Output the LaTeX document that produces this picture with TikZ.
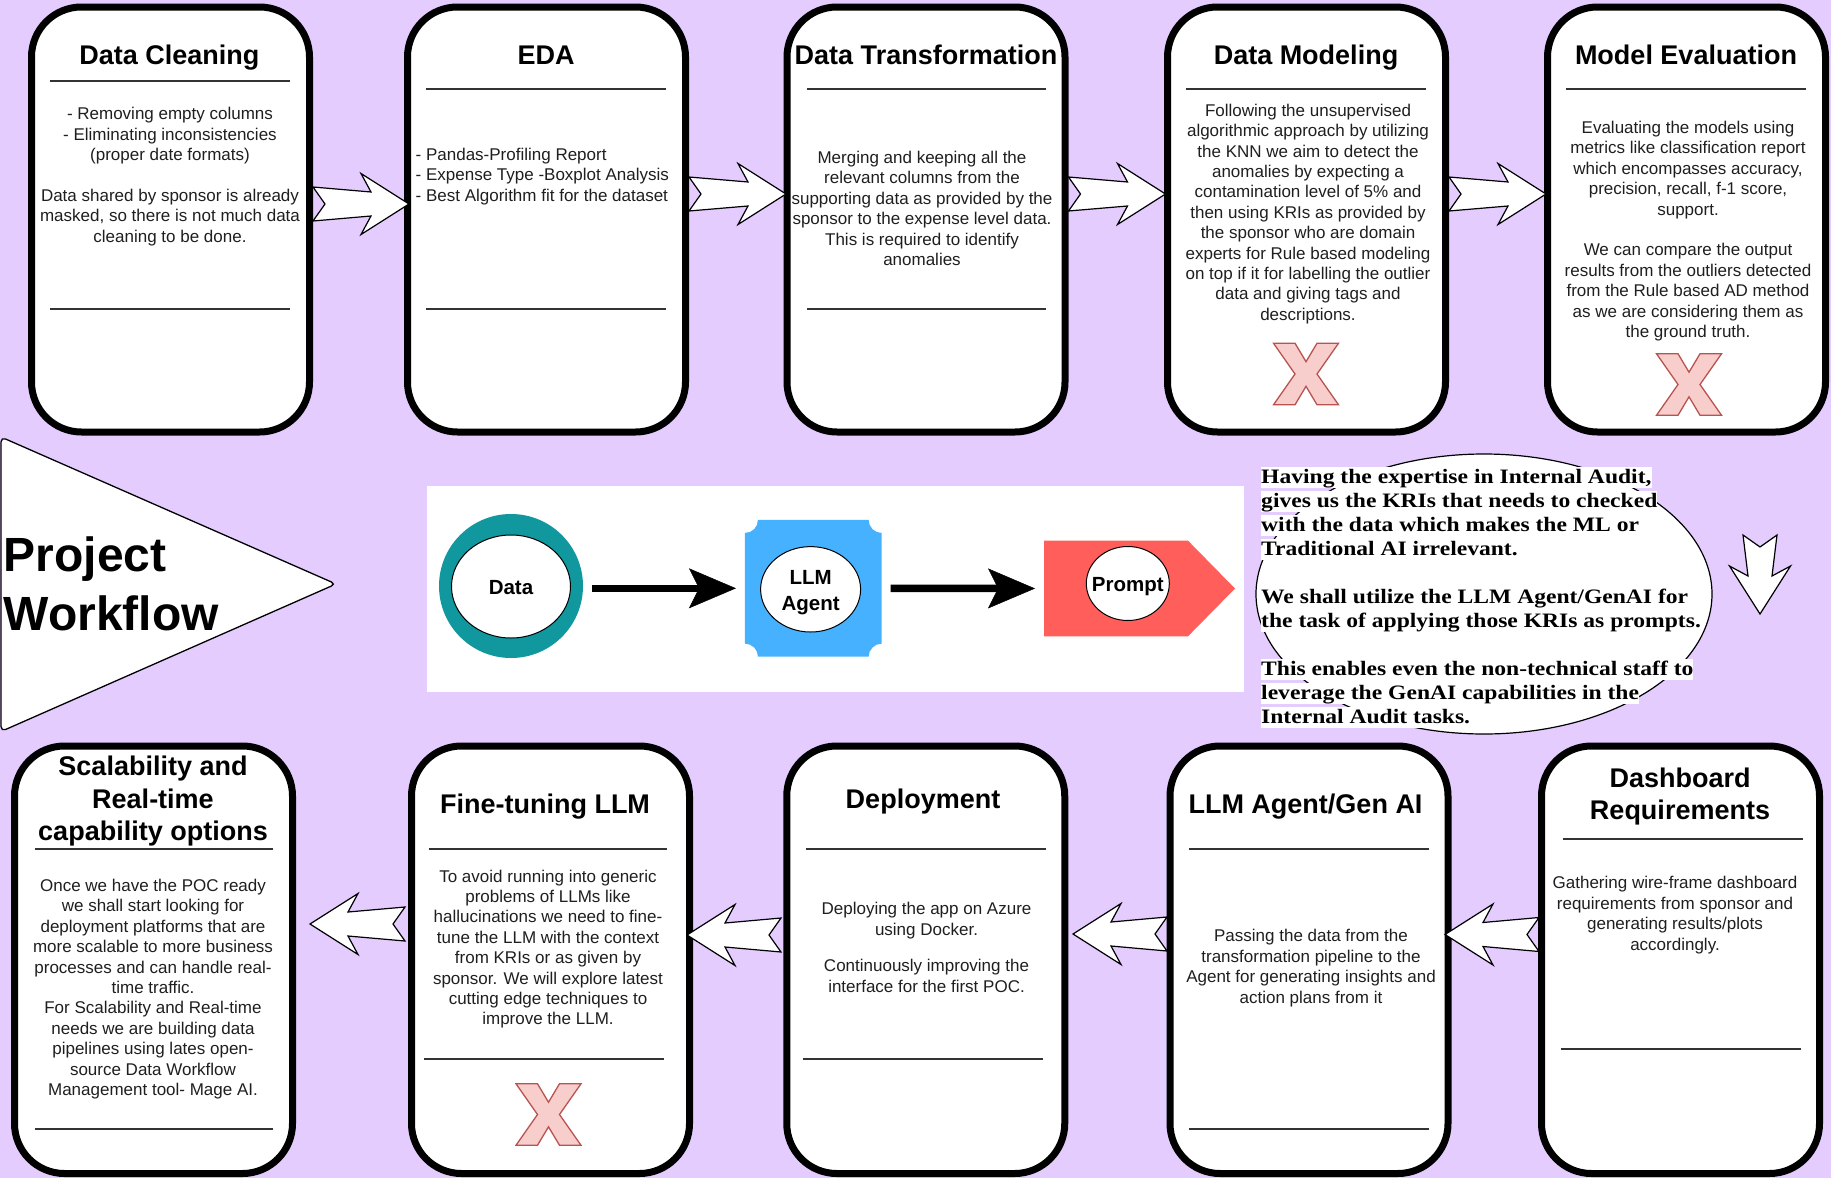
\documentclass[tikz,border=0pt]{standalone}
\usepackage{fontspec}
\setmainfont{Liberation Sans}
\newfontfamily\calloutfont[FakeStretch=1.15]{Liberation Serif}
\usetikzlibrary{calc,arrows.meta,shapes.geometric}

\definecolor{bglav}{RGB}{228,204,255}
\definecolor{ringteal}{RGB}{17,151,158}
\definecolor{plaqueblue}{RGB}{70,178,255}
\definecolor{promptred}{RGB}{255,94,90}
\definecolor{crossfill}{RGB}{248,206,204}
\definecolor{crossline}{RGB}{184,84,80}

\tikzset{
  stagebox/.style={draw=black, line width=7pt, fill=white, rounded corners=50pt,
    minimum width=278pt, minimum height=425pt, inner sep=0pt},
  lowbox/.style={stagebox, minimum height=427.5pt},
  ttl/.style={font=\bfseries\fontsize{27}{32.5}\selectfont, inner sep=0pt, anchor=base},
  bodytxt/.style={font=\fontsize{17}{20.4}\selectfont, align=center, inner sep=0pt, text=black!88},
  rule/.style={draw=black!80, line width=2.2pt},
  barrow/.style={draw=black, fill=white, line width=1.2pt, line join=miter},
  cross/.style={fill=crossfill, draw=crossline, line width=1.3pt, line join=miter},
  callline/.style={anchor=base west, inner sep=0pt, fill=white, text height=16.5pt,
    text depth=4.5pt, font=\calloutfont\bfseries\fontsize{20.5}{24}\selectfont},
  bubble/.style={ellipse, draw=black, fill=white, line width=1pt, inner sep=0pt},
  bubbletxt/.style={inner sep=0pt, align=center, font=\bfseries\fontsize{20.5}{25.5}\selectfont},
  flowarrow/.style={line width=7.5pt, line cap=butt, shorten <=9pt, shorten >=9pt,
    -{Stealth[length=47pt, width=40pt, inset=10pt, line width=0.5pt]}},
  pics/sarrow/.style={code={%
    \draw[barrow] (0,-17) -- (12,0) -- (0,17) -- ({#1-38},12) -- ({#1-48},30.5)
      -- (#1,0) -- ({#1-48},-30.5) -- ({#1-38},-12) -- cycle;
  }}
}

% pink cross mark centred at (#1,#2)
\newcommand\crossmark[2]{%
  \draw[cross, shift={(#1,#2)}] (-32.5,-30.75) -- (-11,-30.75) -- (0,-12.3) -- (11,-30.75)
    -- (32.5,-30.75) -- (11,0) -- (32.5,30.75) -- (11,30.75) -- (0,12.3) -- (-11,30.75)
    -- (-32.5,30.75) -- (-11,0) -- cycle;}

\begin{document}
\begin{tikzpicture}[x=1pt, y=-1pt]
\useasboundingbox (0,0) rectangle (1831,1178);
\fill[bglav] (0,0) rectangle (1831,1178);

% ---------- top row of stages ----------
\node[stagebox] (b1) at (170.5,219.5) {};
\node[stagebox] (b2) at (546.5,219.5) {};
\node[stagebox] (b3) at (926,219.5) {};
\node[stagebox] (b4) at (1306.5,219.5) {};
\node[stagebox] (b5) at (1686.5,219.5) {};

\node[ttl] (t1) at (169.5,64) {Data Cleaning};
\node[ttl] (t2) at (546,64) {EDA};
\node[ttl] (t3) at (926,64) {Data Transformation};
\node[ttl] (t4) at (1306,64) {Data Modeling};
\node[ttl] (t5) at (1686,64) {Model Evaluation};

\draw[rule] (50,81) -- (290,81);
\draw[rule] (50,309.3) -- (290,309.3);
\draw[rule] (426,89.3) -- (666,89.3);
\draw[rule] (426,309.3) -- (666,309.3);
\draw[rule] (807,89.3) -- (1046,89.3);
\draw[rule] (807,309.3) -- (1046,309.3);
\draw[rule] (1186,89.3) -- (1426,89.3);
\draw[rule] (1566,89.3) -- (1806,89.3);

\node[bodytxt] (d1) at (170,176.5) {- Removing empty columns\\- Eliminating inconsistencies\\(proper date formats)\\[20.4pt]Data shared by sponsor is already\\masked, so there is not much data\\cleaning to be done.};
\node[bodytxt, align=left, anchor=west] (d2) at (415.5,176.5) {- Pandas-Profiling Report\\- Expense Type -Boxplot Analysis\\- Best Algorithm fit for the dataset};
\node[bodytxt] (d3) at (922,208.5) {Merging and keeping all the\\relevant columns from the\\supporting data as provided by the\\sponsor to the expense level data.\\This is required to identify\\anomalies};
\node[bodytxt] (d4) at (1308,214) {Following the unsupervised\\algorithmic approach by utilizing\\the KNN we aim to detect the\\anomalies by expecting a\\contamination level of 5\% and\\then using KRIs as provided by\\the sponsor who are domain\\experts for Rule based modeling\\on top if it for labelling the outlier\\data and giving tags and\\descriptions.};
\node[bodytxt] (d5) at (1688,231) {Evaluating the models using\\metrics like classification report\\which encompasses accuracy,\\precision, recall, f-1 score,\\support.\\[20.4pt]We can compare the output\\results from the outliers detected\\from the Rule based AD method\\as we are considering them as\\the ground truth.};

\crossmark{1306}{374}
\crossmark{1689}{384.5}

\pic at (313,204) {sarrow=96};
\pic at (689,194) {sarrow=97};
\pic at (1068.5,194) {sarrow=97};
\pic at (1449,194) {sarrow=97};

% ---------- middle band ----------
\draw[line width=1.3pt, fill=white, rounded corners=5pt] (1,437) -- (336,584) -- (1,731.5) -- cycle;
\node[anchor=base west, inner sep=0pt, font=\bfseries\fontsize{48}{58}\selectfont] (pw1) at (3.5,571.5) {Project};
\node[anchor=base west, inner sep=0pt, font=\bfseries\fontsize{48}{58}\selectfont] (pw2) at (3.5,630) {Workflow};

\fill[white] (427,486) rectangle (1244,691.5);

\node[circle, fill=ringteal, minimum size=144pt, inner sep=0pt] (ring) at (511,586) {};
\node[bubble, minimum width=119pt, minimum height=103pt] (data) at (511,586.5) {};
\node[bubbletxt] (datatxt) at (511,588) {Data};

\node[minimum width=136.7pt, minimum height=136.7pt, inner sep=0pt, outer sep=0pt] (llm) at (813.3,588.3) {};
\fill[plaqueblue] ($(llm.north west)+(0,13)$) arc[start angle=-90, end angle=0, radius=13pt]
  -- ($(llm.north east)+(-13,0)$) arc[start angle=180, end angle=270, radius=13pt]
  -- ($(llm.south east)+(0,-13)$) arc[start angle=90, end angle=180, radius=13pt]
  -- ($(llm.south west)+(13,0)$) arc[start angle=0, end angle=90, radius=13pt] -- cycle;
\node[bubble, minimum width=100pt, minimum height=85.4pt] (agent) at (810.6,589.3) {};
\node[bubbletxt] (agenttxt) at (810.6,592.8) {LLM\\Agent};

\node[minimum width=191pt, minimum height=95.6pt, inner sep=0pt, outer sep=0pt] (promptbox) at (1139.5,588.5) {};
\fill[promptred] (promptbox.north west) -- ($(promptbox.north east)+(-47,0)$) -- (promptbox.east)
  -- ($(promptbox.south east)+(-47,0)$) -- (promptbox.south west) -- cycle;
\node[bubble, minimum width=83pt, minimum height=74pt] (prompt) at (1127.8,583.5) {};
\node[bubbletxt] (prompttxt) at (1127.8,587) {Prompt};

\draw[flowarrow] (ring.east |- llm.west) -- (llm.west);
\draw[flowarrow] (llm.east) -- (promptbox.west);

% callout
\node[ellipse, draw=black, fill=white, line width=1.2pt, minimum width=456pt, minimum height=280pt] (note) at (1484,594) {};
\node[callline] (n1) at (1261,483.7) {Having the expertise in Internal Audit,};
\node[callline] (n2) at (1261,507.6) {gives us the KRIs that needs to checked};
\node[callline] (n3) at (1261,531.6) {with the data which makes the ML or};
\node[callline] (n4) at (1261,555.5) {Traditional AI irrelevant.};
\node[callline] (n5) at (1261,603.4) {We shall utilize the LLM Agent/GenAI for};
\node[callline] (n6) at (1261,627.3) {the task of applying those KRIs as prompts.};
\node[callline] (n7) at (1261,675.1) {This enables even the non-technical staff to};
\node[callline] (n8) at (1261,699.1) {leverage the GenAI capabilities in the};
\node[callline] (n9) at (1261,723) {Internal Audit tasks.};

\pic[rotate=-90] at (1760,535) {sarrow=79};

% ---------- bottom row of stages ----------
\node[lowbox] (c1) at (153.5,959.75) {};
\node[lowbox] (c2) at (550.5,959.75) {};
\node[lowbox] (c3) at (925.75,959.75) {};
\node[lowbox] (c4) at (1309,959.75) {};
\node[lowbox] (c5) at (1680.5,959.75) {};

\node[ttl] (s1a) at (153,775.5) {Scalability and};
\node[ttl] (s1b) at (153,808) {Real-time};
\node[ttl] (s1c) at (153,840.5) {capability options};
\node[ttl] (s2) at (545,813) {Fine-tuning LLM};
\node[ttl] (s3) at (923,808) {Deployment};
\node[ttl] (s4) at (1305.5,813) {LLM Agent/Gen AI};
\node[ttl] (s5a) at (1680,787) {Dashboard};
\node[ttl] (s5b) at (1680,819.5) {Requirements};

\draw[rule] (35,849) -- (273,849);
\draw[rule] (35,1129) -- (273,1129);
\draw[rule] (428.5,849) -- (667,849);
\draw[rule] (424,1059.3) -- (664,1059.3);
\draw[rule] (806,849) -- (1046,849);
\draw[rule] (803,1059.3) -- (1043,1059.3);
\draw[rule] (1189,849) -- (1429,849);
\draw[rule] (1189,1129) -- (1429,1129);
\draw[rule] (1563,839) -- (1803,839);
\draw[rule] (1560.7,1049) -- (1800.7,1049);

\node[bodytxt] (e1) at (153,989) {Once we have the POC ready\\we shall start looking for\\deployment platforms that are\\more scalable to more business\\processes and can handle real-\\time traffic.\\For Scalability and Real-time\\needs we are building data\\pipelines using lates open-\\source Data Workflow\\Management tool- Mage AI.};
\node[bodytxt] (e2) at (548,949) {To avoid running into generic\\problems of LLMs like\\hallucinations we need to fine-\\tune the LLM with the context\\from KRIs or as given by\\sponsor. We will explore latest\\cutting edge techniques to\\improve the LLM.};
\node[bodytxt] (e3) at (926.5,947.5) {Deploying the app on Azure\\using Docker.\\[16.3pt]Continuously improving the\\interface for the first POC.};
\node[bodytxt] (e4) at (1311,968) {Passing the data from the\\transformation pipeline to the\\Agent for generating insights and\\action plans from it};
\node[bodytxt] (e5) at (1675,915) {Gathering wire-frame dashboard\\requirements from sponsor and\\generating results/plots\\accordingly.};

\crossmark{548.5}{1114.5}

\pic[rotate=180] at (405,924) {sarrow=95};
\pic[rotate=180] at (781,935) {sarrow=94};
\pic[rotate=180] at (1167,934) {sarrow=94};
\pic[rotate=180] at (1539,934.5) {sarrow=94};

\end{tikzpicture}
\end{document}
